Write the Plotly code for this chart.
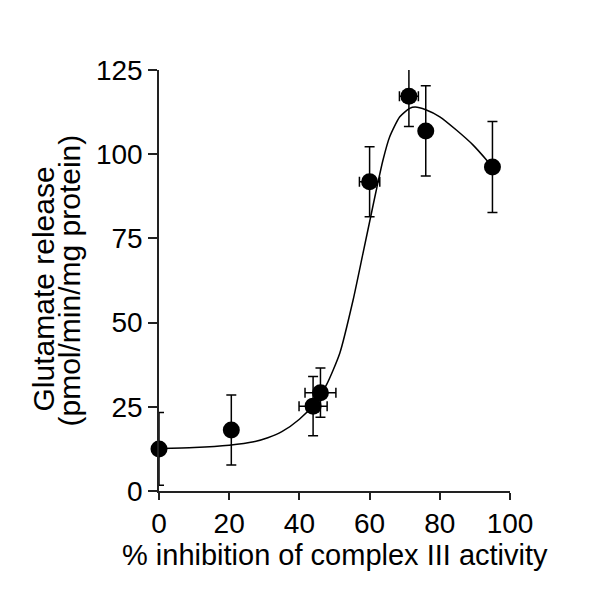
import plotly.graph_objects as go

# Data points (mean ± error)
pt_x = [0, 20.6, 43.9, 46.0, 60.0, 71.2, 76.0, 95.0]
pt_y = [12.5, 18.1, 25.2, 29.2, 91.8, 117.2, 106.9, 96.2]
pt_yerr = [10.8, 10.4, 8.8, 7.3, 10.4, 9.0, 13.4, 13.5]
pt_xerr = [0, 1.0, 4.0, 4.4, 2.9, 2.7, 1.0, 1.0]

# Fitted curve
curve_x = [0, 10, 20, 27, 31, 35, 40, 44, 47.7, 51.5, 55.3, 58.1, 60.5, 61.9, 63.8,
           65.7, 68.6, 71.4, 73, 76, 80, 84.8, 89.5, 93.8, 95]
curve_y = [12.6, 12.9, 13.6, 14.6, 15.8, 17.6, 21.3, 25.6, 31.5, 40.9, 56.7, 70.5, 82.4,
           89.3, 98.2, 105.1, 111.1, 113.6, 114.0, 113.2, 111.1, 107.1, 102.7, 97.7, 96.2]

x_ticks = [0, 20, 40, 60, 80, 100]
y_ticks = [0, 25, 50, 75, 100, 125]

x_title = "% inhibition of complex III activity"
y_title_1 = "Glutamate release"
y_title_2 = "(pmol/min/mg protein)"

OFF = 8  # page body margin
W, H = 600, 601
L, T = 159 - OFF, 70 - OFF
pw, ph = 351, 421
R, B = W - L - pw, H - T - ph

def px_x(p):
    return (p - OFF - L) / pw

def px_y(p):
    return (T + ph - (p - OFF)) / ph

FONT = "Liberation Sans, Arial, sans-serif"

fig = go.Figure()
fig.add_trace(go.Scatter(
    x=curve_x, y=curve_y, mode="lines",
    line=dict(color="black", width=1.5, shape="spline", smoothing=0.6),
    hoverinfo="skip", cliponaxis=False,
))
fig.add_trace(go.Scatter(
    x=pt_x, y=pt_y, mode="markers",
    marker=dict(color="black", size=17, symbol="circle"),
    error_y=dict(type="data", array=pt_yerr, visible=True, color="black",
                 thickness=1.5, width=5),
    error_x=dict(type="data", array=pt_xerr, visible=True, color="black",
                 thickness=1.5, width=5),
    cliponaxis=False,
))

axis_common = dict(
    showline=True, linecolor="#222", linewidth=1.5,
    ticks="outside", tickcolor="#222", tickwidth=1.5,
    showgrid=False, zeroline=False,
    tickfont=dict(family=FONT, size=28, color="black"),
)

fig.update_layout(
    width=W, height=H,
    margin=dict(l=L, r=R, t=T, b=B),
    paper_bgcolor="white", plot_bgcolor="white",
    showlegend=False,
    xaxis=dict(range=[0, 100], tickvals=x_ticks, ticklen=7, **axis_common),
    yaxis=dict(range=[0, 125], tickvals=y_ticks, ticklen=9, **axis_common),
    shapes=[dict(type="line", xref="paper", yref="paper",
                 x0=px_x(150), x1=0, y0=0, y1=0,
                 line=dict(color="#222", width=1.5))],
    annotations=[
        dict(text=x_title, xref="paper", yref="paper",
             x=px_x(334.5), y=px_y(555), xanchor="center", yanchor="middle",
             showarrow=False, font=dict(family=FONT, size=29, color="black")),
        dict(text=y_title_1, xref="paper", yref="paper", textangle=-90,
             x=px_x(42.5), y=px_y(289), xanchor="center", yanchor="middle",
             showarrow=False, font=dict(family=FONT, size=30, color="black")),
        dict(text=y_title_2, xref="paper", yref="paper", textangle=-90,
             x=px_x(68.5), y=px_y(281), xanchor="center", yanchor="middle",
             showarrow=False, font=dict(family=FONT, size=30, color="black")),
    ],
)

fig.write_html("out.html")
